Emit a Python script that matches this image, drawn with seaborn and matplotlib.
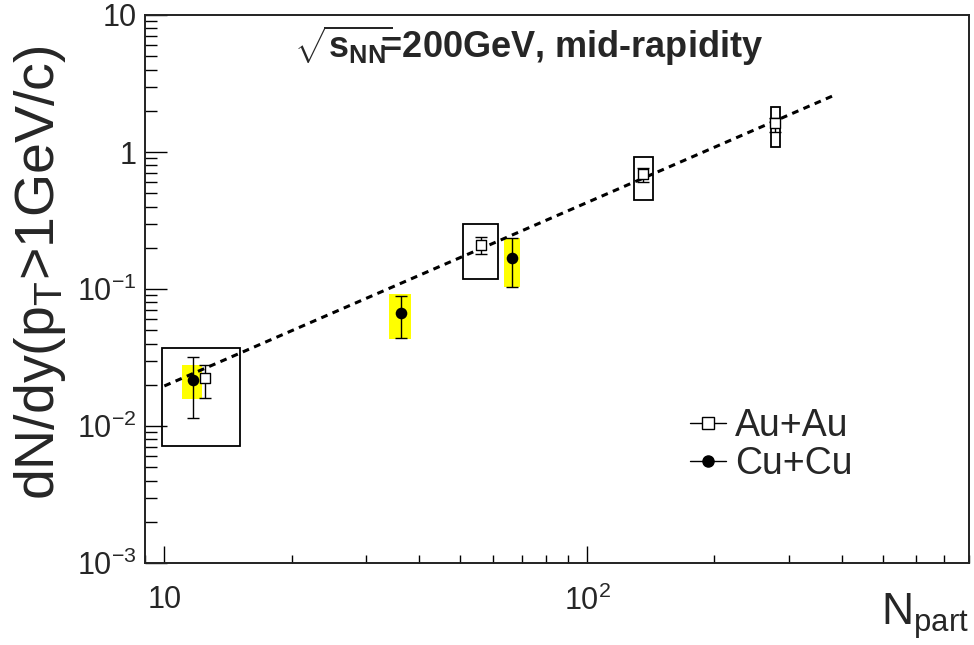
import matplotlib
matplotlib.use("Agg")
import matplotlib.pyplot as plt
import seaborn as sns
from matplotlib.patches import Rectangle
from matplotlib.lines import Line2D
from matplotlib.ticker import FixedLocator, LogLocator, NullFormatter, FixedFormatter

# Au+Au (open squares) : Npart, dN/dy, stat errors and systematic boxes
au_npart = [12.5, 56.1, 135.5, 278]
au_dndy = [0.0224, 0.209, 0.69, 1.63]
au_err_lo = [0.016, 0.18, 0.60, 1.40]
au_err_hi = [0.028, 0.24, 0.76, 1.77]
au_box_xlo = [9.87, 50.8, 129, 272]
au_box_xhi = [15.1, 61.5, 143, 286]
au_box_lo = [0.0071, 0.118, 0.447, 1.09]
au_box_hi = [0.037, 0.298, 0.92, 2.13]

# Cu+Cu (filled circles)
cu_npart = [11.7, 36.2, 66.4]
cu_dndy = [0.0217, 0.0668, 0.168]
cu_err_lo = [0.0114, 0.0438, 0.1035]
cu_err_hi = [0.0319, 0.089, 0.236]
cu_box_xlo = [11.0, 34.0, 63.5]
cu_box_xhi = [12.3, 38.3, 69.3]
cu_box_lo = [0.0157, 0.0434, 0.1035]
cu_box_hi = [0.0279, 0.0917, 0.236]

# power-law fit, end points
fit_npart = [10, 390]
fit_dndy = [0.0196, 2.65]

xtick_vals = [10, 100]
xtick_labels = ["10", r"$10^{2}$"]
ytick_vals = [1e-3, 1e-2, 1e-1, 1, 10]
ytick_labels = [r"$10^{-3}$", r"$10^{-2}$", r"$10^{-1}$", "1", "10"]

sns.set_style("ticks")
plt.rcParams["font.family"] = ["Liberation Sans", "DejaVu Sans"]
plt.rcParams["mathtext.fontset"] = "custom"
plt.rcParams["mathtext.rm"] = "Liberation Sans"
plt.rcParams["mathtext.it"] = "Liberation Sans:italic"
plt.rcParams["mathtext.bf"] = "Liberation Sans:bold"
plt.rcParams["mathtext.sf"] = "Liberation Sans"

W, H = 974, 645
fig = plt.figure(figsize=(W / 100, H / 100), dpi=100)
ax = fig.add_axes([145 / W, (H - 563) / H, (969 - 145) / W, (563 - 15) / H])
ax.set_xscale("log")
ax.set_yscale("log")

# systematic boxes
for x0, x1, y0, y1 in zip(cu_box_xlo, cu_box_xhi, cu_box_lo, cu_box_hi):
    ax.add_patch(Rectangle((x0, y0), x1 - x0, y1 - y0, facecolor="#ffff00",
                           edgecolor="none", zorder=1))
for x0, x1, y0, y1 in zip(au_box_xlo, au_box_xhi, au_box_lo, au_box_hi):
    ax.add_patch(Rectangle((x0, y0), x1 - x0, y1 - y0, facecolor="none",
                           edgecolor="black", lw=1.3, zorder=2))

# fit
sns.lineplot(x=fit_npart, y=fit_dndy, color="black", lw=2.2, ax=ax,
             linestyle=(0, (2.2, 1.8)), estimator=None, sort=False, zorder=3)

# stat errors
ax.errorbar(au_npart, au_dndy,
            yerr=[[v - l for v, l in zip(au_dndy, au_err_lo)],
                  [h - v for v, h in zip(au_dndy, au_err_hi)]],
            fmt="none", ecolor="black", elinewidth=1, capsize=4.5, capthick=1, zorder=4)
ax.errorbar(cu_npart, cu_dndy,
            yerr=[[v - l for v, l in zip(cu_dndy, cu_err_lo)],
                  [h - v for v, h in zip(cu_dndy, cu_err_hi)]],
            fmt="none", ecolor="black", elinewidth=1, capsize=4.5, capthick=1, zorder=4)

# markers
sns.scatterplot(x=au_npart, y=au_dndy, marker="s", s=60, facecolor="white",
                edgecolor="black", linewidth=1, ax=ax, zorder=5)
sns.scatterplot(x=cu_npart, y=cu_dndy, marker="o", s=70, color="black",
                edgecolor="black", linewidth=0, ax=ax, zorder=5)

ax.set_xlim(9, 800)
ax.set_ylim(1e-3, 10)

ax.xaxis.set_major_locator(FixedLocator(xtick_vals))
ax.xaxis.set_major_formatter(FixedFormatter(xtick_labels))
ax.xaxis.set_minor_locator(LogLocator(base=10, subs=range(2, 10), numticks=20))
ax.xaxis.set_minor_formatter(NullFormatter())
ax.yaxis.set_major_locator(FixedLocator(ytick_vals))
ax.yaxis.set_major_formatter(FixedFormatter(ytick_labels))
ax.yaxis.set_minor_locator(LogLocator(base=10, subs=range(2, 10), numticks=20))
ax.yaxis.set_minor_formatter(NullFormatter())

ax.tick_params(axis="both", which="both", direction="in", color="black", width=1,
               top=False, right=False)
ax.tick_params(axis="x", which="major", length=12, pad=16, labelsize=22)
ax.tick_params(axis="x", which="minor", length=6)
ax.tick_params(axis="y", which="major", length=16, pad=6, labelsize=22)
ax.tick_params(axis="y", which="minor", length=8.5)
for sp in ax.spines.values():
    sp.set_visible(True)
    sp.set_linewidth(1.4)
    sp.set_color("#222222")
ax.set_xlabel("")
ax.set_ylabel("")

handles = [
    Line2D([], [], color="black", lw=1, marker="s", ms=8, mfc="white", mec="black", mew=1),
    Line2D([], [], color="black", lw=1, marker="o", ms=8, mfc="black", mec="black"),
]
ax.legend(handles, ["Au+Au", "Cu+Cu"], loc="center left", frameon=False,
          bbox_to_anchor=(690 / W, (H - 445) / H), bbox_transform=fig.transFigure,
          fontsize=27, handlelength=0.95, handletextpad=0.25, labelspacing=0.05,
          borderpad=0, borderaxespad=0)

fig.text(529 / W, (H - 58) / H,
         r"$\sqrt{\mathbf{s}_{\mathbf{NN}}}\!\!$=200GeV, mid-rapidity",
         ha="center", va="baseline", fontsize=26, fontweight="bold")
fig.text(40 / W, 1 - 273 / H, r"dN/dy(p$_{\mathrm{T}}$>1GeV/c)", rotation=90,
         ha="center", va="center", fontsize=40)
fig.text(969 / W, (H - 625) / H, r"N$_{\mathrm{part}}$", ha="right", va="baseline",
         fontsize=32)

fig.savefig("out.png", dpi=100)
